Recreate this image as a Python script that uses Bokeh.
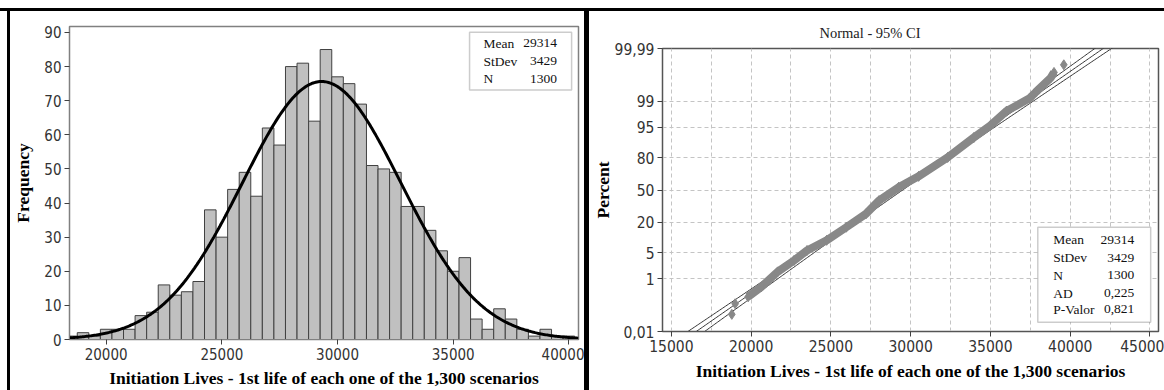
import math
from statistics import NormalDist
import numpy as np
from bokeh.plotting import figure
from bokeh.layouts import row, column
from bokeh.models import (Range1d, FixedTicker, BoxAnnotation, Label, Div, Spacer,
                          CustomJSTickFormatter)
from bokeh.embed import file_html
from bokeh.resources import INLINE

# ---------------- data ----------------
bin_centers = [18500, 19000, 19500, 20000, 20500, 21000, 21500, 22000, 22500, 23000,
               23500, 24000, 24500, 25000, 25500, 26000, 26500, 27000, 27500, 28000,
               28500, 29000, 29500, 30000, 30500, 31000, 31500, 32000, 32500, 33000,
               33500, 34000, 34500, 35000, 35500, 36000, 36500, 37000, 37500, 38000,
               38500, 39000, 39500, 40000]
bin_counts = [1, 2, 1, 3, 3, 3, 7, 8, 16, 13,
              14, 17, 38, 30, 44, 49, 42, 62, 57, 80,
              81, 64, 85, 77, 75, 69, 51, 50, 49, 39,
              39, 32, 26, 20, 24, 6, 3, 9, 6, 3,
              1, 3, 1, 1]
bin_width = 500
mean_val = 29314
stdev_val = 3429
n_val = 1300
ad_val = "0,225"
p_val = "0,821"

hist_x_ticks = [20000, 25000, 30000, 35000, 40000]
hist_y_ticks = [0, 10, 20, 30, 40, 50, 60, 70, 80, 90]

# probability plot points (read along the plotted band)
prob_x = [18790, 19000, 19815, 20633, 21660, 22690, 23505, 24735, 25965, 27195,
          28015, 29245, 30500, 32320, 33960, 35000, 36010, 37450, 37850, 38775,
          38985, 39600]
prob_pct = [0.054, 0.14, 0.25, 0.54, 1.57, 3.2, 5.6, 9.3, 16.4, 26.5,
            39, 52.8, 64, 80.4, 91.6, 95.5, 98.1, 99.2, 99.5, 99.84,
            99.9, 99.95]

pct_ticks = [0.01, 1, 5, 20, 50, 80, 95, 99, 99.99]
pct_labels = ["0,01", "1", "5", "20", "50", "80", "95", "99", "99,99"]
pct_grid = [1, 5, 20, 50, 80, 95, 99]
prob_x_ticks = [15000, 20000, 25000, 30000, 35000, 40000, 45000]
prob_x_grid = [15000, 17500, 20000, 22500, 25000, 27500, 30000, 32500, 35000,
               37500, 40000, 42500, 45000]

# ---------------- styles ----------------
SERIF = "Liberation Serif"
TICKF = "'Liberation Sans Narrow', 'DejaVu Sans Condensed', sans-serif"
LEGSIZE = "13.5px"
nd = NormalDist()


def probit(p):
    return nd.inv_cdf(p / 100.0)


def style_axes(p, line_col, tick_size):
    for ax in (p.xaxis[0], p.yaxis[0]):
        ax.axis_line_color = line_col
        ax.major_tick_line_color = "#404040"
        ax.minor_tick_line_color = None
        ax.major_tick_in = 0
        ax.major_tick_out = 5
        ax.major_label_text_font = TICKF
        ax.major_label_text_font_size = tick_size
        ax.major_label_text_color = "#333333"
        ax.axis_label_text_font = SERIF
        ax.axis_label_text_font_size = "17.5px"
        ax.axis_label_text_font_style = "bold"
        ax.axis_label_text_color = "black"


# ---------------- histogram ----------------
p1 = figure(width=574, height=379, x_range=Range1d(18415, 40415), y_range=Range1d(0, 91.75),
            output_backend="svg", toolbar_location=None,
            min_border_left=54, min_border_right=6, min_border_top=15, min_border_bottom=49)
p1.frame_align = False
p1.xgrid.visible = False
p1.ygrid.visible = False
p1.outline_line_color = "#808080"
p1.outline_line_width = 1.5

lefts = [c - bin_width / 2 for c in bin_centers]
rights = [c + bin_width / 2 for c in bin_centers]
p1.quad(left=lefts, right=rights, bottom=0, top=bin_counts,
        fill_color="#c0c0c0", line_color="#404040", line_width=1)

xs = np.linspace(18415, 40415, 400)
ys = n_val * bin_width * np.exp(-0.5 * ((xs - mean_val) / stdev_val) ** 2) / (stdev_val * math.sqrt(2 * math.pi))
p1.line(xs, ys, line_color="black", line_width=3)

style_axes(p1, "#808080", "15px")
p1.xaxis.ticker = FixedTicker(ticks=hist_x_ticks)
p1.yaxis.ticker = FixedTicker(ticks=hist_y_ticks)
p1.xaxis.axis_label = "Initiation Lives - 1st life of each one of the 1,300 scenarios"
p1.yaxis.axis_label = "Frequency"
p1.xaxis.major_label_standoff = 3
p1.yaxis.major_label_standoff = 3
p1.xaxis.axis_label_standoff = 5
p1.yaxis.axis_label_standoff = 8

p1.add_layout(BoxAnnotation(left=35706, right=40117, top=90.1, bottom=73.1,
                            fill_color="white", fill_alpha=1, line_color="#555555",
                            line_width=1.5))
leg1 = [("Mean", str(mean_val)), ("StDev", str(stdev_val)), ("N", str(n_val))]
for (lab, val), yy in zip(leg1, [86.9, 81.5, 76.5]):
    p1.add_layout(Label(x=36305, y=yy, text=lab, text_font=SERIF, text_font_size=LEGSIZE,
                        text_baseline="middle", text_align="left", text_color="#111111"))
    p1.add_layout(Label(x=39487, y=yy, text=val, text_font=SERIF, text_font_size=LEGSIZE,
                        text_baseline="middle", text_align="right", text_color="#111111"))

# ---------------- probability plot ----------------
zlo, zhi = probit(0.01), probit(99.99)
p2 = figure(width=575, height=379, x_range=Range1d(14446, 45535), y_range=Range1d(zlo, zhi),
            output_backend="svg", toolbar_location=None,
            min_border_left=64, min_border_right=6, min_border_top=37, min_border_bottom=59)
p2.frame_align = False
p2.title.text = "Normal - 95% CI"
p2.title.text_font = SERIF
p2.title.text_font_size = "14.5px"
p2.title.text_font_style = "normal"
p2.title.text_color = "#222222"
p2.title.align = "left"
p2.title.offset = 157
p2.title.standoff = 16
p2.outline_line_color = "#555555"
p2.outline_line_width = 1.5

p2.xgrid.ticker = FixedTicker(ticks=prob_x_grid)
p2.ygrid.ticker = FixedTicker(ticks=[probit(v) for v in pct_grid])
for g in (p2.xgrid[0], p2.ygrid[0]):
    g.grid_line_color = "#c4c4c4"
    g.grid_line_dash = "4 3"
    g.grid_line_width = 1

zz = np.linspace(zlo - 0.2, zhi + 0.2, 300)
x_fit = mean_val + zz * stdev_val
ci = 1.959964 * stdev_val * np.sqrt(1.0 / n_val + zz ** 2 / (2.0 * n_val))
pz = [probit(v) for v in prob_pct]
for xv in (x_fit - ci, x_fit, x_fit + ci):
    p2.line(xv, zz, line_color="#333333", line_width=1)
p2.line(prob_x[2:-1], pz[2:-1], line_color="#888888", line_width=8)
p2.scatter(prob_x, pz, marker="diamond", size=10, fill_color="#888888", line_color="#888888")

style_axes(p2, "#555555", "15.5px")
p2.xaxis.ticker = FixedTicker(ticks=prob_x_ticks)
p2.yaxis.ticker = FixedTicker(ticks=[probit(v) for v in pct_ticks])
p2.yaxis.formatter = CustomJSTickFormatter(
    args=dict(tv=[probit(v) for v in pct_ticks], tl=pct_labels),
    code="""
let best = 0, bd = 1e9;
for (let i = 0; i < tv.length; i++) { const d = Math.abs(tv[i] - tick); if (d < bd) { bd = d; best = i; } }
return tl[best];
""")
p2.xaxis.axis_label = "Initiation Lives - 1st life of each one of the 1,300 scenarios"
p2.yaxis.axis_label = "Percent"
p2.xaxis.major_label_standoff = 3
p2.yaxis.major_label_standoff = 3
p2.xaxis.axis_label_standoff = 6
p2.yaxis.axis_label_standoff = -1

p2.add_layout(BoxAnnotation(left=37969, right=45045, top=-0.979, bottom=-3.473,
                            fill_color="white", fill_alpha=1, line_color="#555555",
                            line_width=1.5))
leg2 = [("Mean", str(mean_val)), ("StDev", str(stdev_val)), ("N", str(n_val)),
        ("AD", ad_val), ("P-Valor", p_val)]
for (lab, val), yy in zip(leg2, [-1.310, -1.782, -2.247, -2.712, -3.139]):
    p2.add_layout(Label(x=38935, y=yy, text=lab, text_font=SERIF, text_font_size=LEGSIZE,
                        text_baseline="middle", text_align="left", text_color="#111111"))
    p2.add_layout(Label(x=44017, y=yy, text=val, text_font=SERIF, text_font_size=LEGSIZE,
                        text_baseline="middle", text_align="right", text_color="#111111"))

# ---------------- layout with black cell borders ----------------
black = {"background-color": "black"}
top_space = Spacer(width=1164, height=8, margin=0)
top_bar = Div(text="", width=1164, height=3, styles=black, margin=0)
left_pad = Spacer(width=7, height=379, margin=0)
left_bar = Div(text="", width=3, height=379, styles=black, margin=0)
mid_bar = Div(text="", width=5, height=379, styles=black, margin=0)
p1.margin = 0
p2.margin = 0
layout = column(top_space, top_bar, row(left_pad, left_bar, p1, mid_bar, p2, spacing=0), spacing=0)

open("out.html", "w").write(file_html(layout, INLINE))
